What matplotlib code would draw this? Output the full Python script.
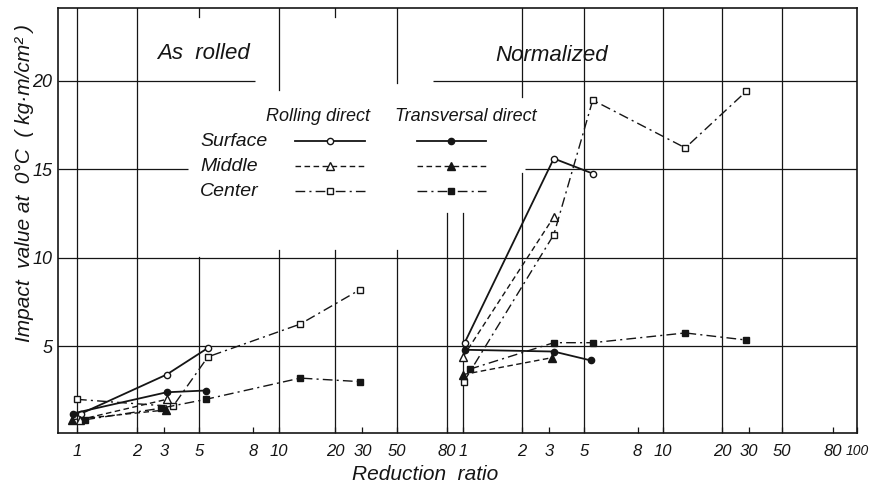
import numpy as np
import matplotlib
matplotlib.use("Agg")
import matplotlib.pyplot as plt
from matplotlib.lines import Line2D

# ---------------- data ----------------
left_ticks = [1, 2, 3, 5, 8, 10, 20, 30, 50, 80]
left_tick_labels = ["1", "2", "3", "5", "8", "10", "20", "30", "50", "80"]
right_ticks = [1, 2, 3, 5, 8, 10, 20, 30, 50, 80, 100]
right_tick_labels = ["1", "2", "3", "5", "8", "10", "20", "30", "50", "80", "100"]
y_ticks = [5, 10, 15, 20]

# As rolled (left panel)
ar_surface_roll_r = [1.05, 3.1, 5.4]
ar_surface_roll_v = [1.2, 3.4, 4.9]
ar_middle_roll_r = [1.03, 3.1]
ar_middle_roll_v = [0.85, 2.0]
ar_center_roll_r = [1.0, 3.4, 5.4, 13, 29]
ar_center_roll_v = [2.0, 1.6, 4.4, 6.25, 8.2]
ar_surface_trans_r = [0.95, 3.1, 5.3]
ar_surface_trans_v = [1.2, 2.4, 2.5]
ar_middle_trans_r = [0.94, 3.05]
ar_middle_trans_v = [0.85, 1.4]
ar_center_trans_r = [1.1, 2.85, 5.3, 13, 29]
ar_center_trans_v = [0.85, 1.5, 2.0, 3.2, 3.0]

# Normalized (right panel)
nz_surface_roll_r = [1.02, 3.2, 5.4]
nz_surface_roll_v = [5.2, 15.6, 14.75]
nz_middle_roll_r = [1.0, 3.2]
nz_middle_roll_v = [4.4, 12.3]
nz_center_roll_r = [1.01, 3.2, 5.4, 13, 29]
nz_center_roll_v = [3.0, 11.3, 18.9, 16.2, 19.4]
nz_surface_trans_r = [1.02, 3.2, 5.3]
nz_surface_trans_v = [4.8, 4.7, 4.2]
nz_middle_trans_r = [1.0, 3.1]
nz_middle_trans_v = [3.4, 4.35]
nz_center_trans_r = [1.08, 3.2, 5.4, 13, 29]
nz_center_trans_v = [3.7, 5.2, 5.2, 5.75, 5.35]

# ---------------- hand-drawn x scale (two log-like panels) ----------------
SCALE_LEFT_R = [1, 2, 5, 10, 20, 50, 80]
SCALE_LEFT_P = [77, 137, 199, 279, 335, 397, 447]
SCALE_RIGHT_R = [1, 2, 5, 10, 20, 50, 100]
SCALE_RIGHT_P = [463, 522, 584, 663, 722, 782, 857]
XMIN, XMAX = 58, 857


def make_pos(anchor_r, anchor_p):
    lr = np.log10(np.asarray(anchor_r, float))
    ap = np.asarray(anchor_p, float)

    def f(r):
        l = np.log10(np.asarray(r, float))
        p = np.interp(l, lr, ap)
        s0 = (ap[1] - ap[0]) / (lr[1] - lr[0])
        s1 = (ap[-1] - ap[-2]) / (lr[-1] - lr[-2])
        p = np.where(l < lr[0], ap[0] + (l - lr[0]) * s0, p)
        p = np.where(l > lr[-1], ap[-1] + (l - lr[-1]) * s1, p)
        return p
    return f


pos_left = make_pos(SCALE_LEFT_R, SCALE_LEFT_P)
pos_right = make_pos(SCALE_RIGHT_R, SCALE_RIGHT_P)

FONT = ["Liberation Sans", "DejaVu Sans"]
plt.rcParams["font.family"] = FONT
plt.rcParams["font.style"] = "italic"
INK = "#151515"

fig = plt.figure(figsize=(8.69, 4.93), dpi=100)
W, H = 869, 493
ax = fig.add_axes([XMIN / W, (H - 433) / H, (XMAX - XMIN) / W, (433 - 8) / H])
ax.set_xlim(XMIN, XMAX)
ax.set_ylim(0.1, 24.1)

# ---------------- grid (partly interrupted like the drawing) ----------------
grid_kw = dict(color=INK, lw=0.9, zorder=1)
full_v = [pos_left(1), pos_left(2), pos_right(5), pos_right(10),
          pos_right(20), pos_right(50)]
for x in full_v:
    ax.axvline(float(x), **grid_kw)
broken_v = [
    (pos_left(5), [(0, 0.414), (0.979, 1)]),
    (pos_left(10), [(0, 0.431), (0.807, 1)]),
    (pos_left(20), [(0, 0.431), (0.979, 1)]),
    (pos_left(50), [(0, 0.431), (0.824, 1)]),
    (pos_left(80), [(0, 0.518)]),
    (pos_right(1), [(0, 0.518)]),
    (pos_right(2), [(0, 0.612), (0.791, 1)]),
]
for x, segs in broken_v:
    for a, b in segs:
        ax.axvline(float(x), ymin=a, ymax=b, **grid_kw)
ax.axhline(5, **grid_kw)
ax.axhline(10, **grid_kw)
ax.hlines([15, 15], [XMIN, 525], [188, XMAX], **grid_kw)
ax.hlines([20, 20], [XMIN, 433], [255, XMAX], **grid_kw)

# ---------------- series ----------------
LS = {"surface": "-", "middle": (0, (4, 2.5)), "center": (0, (7, 3, 1.5, 3))}
MK = {"surface": ("o", 4.5), "middle": ("^", 5.5), "center": ("s", 5)}
LW = {"surface": 1.3, "middle": 1.0, "center": 1.0}

series = [
    (pos_left, ar_surface_roll_r, ar_surface_roll_v, "surface", False),
    (pos_left, ar_middle_roll_r, ar_middle_roll_v, "middle", False),
    (pos_left, ar_center_roll_r, ar_center_roll_v, "center", False),
    (pos_left, ar_surface_trans_r, ar_surface_trans_v, "surface", True),
    (pos_left, ar_middle_trans_r, ar_middle_trans_v, "middle", True),
    (pos_left, ar_center_trans_r, ar_center_trans_v, "center", True),
    (pos_right, nz_surface_roll_r, nz_surface_roll_v, "surface", False),
    (pos_right, nz_middle_roll_r, nz_middle_roll_v, "middle", False),
    (pos_right, nz_center_roll_r, nz_center_roll_v, "center", False),
    (pos_right, nz_surface_trans_r, nz_surface_trans_v, "surface", True),
    (pos_right, nz_middle_trans_r, nz_middle_trans_v, "middle", True),
    (pos_right, nz_center_trans_r, nz_center_trans_v, "center", True),
]
for fpos, r, v, loc, filled in series:
    m, ms = MK[loc]
    ax.plot(fpos(r), v, linestyle=LS[loc], lw=LW[loc], color=INK,
            marker=m, ms=ms, mew=1.0, mec=INK,
            mfc=INK if filled else "white", zorder=3)

# ---------------- legend ----------------
def handle(loc, filled):
    m, ms = MK[loc]
    return Line2D([], [], linestyle=LS[loc], lw=LW[loc], color=INK, marker=m,
                  ms=ms, mew=1.0, mec=INK, mfc=INK if filled else "white")

handles = [handle("surface", False), handle("middle", False), handle("center", False),
           handle("surface", True), handle("middle", True), handle("center", True)]
leg = ax.legend(handles, [""] * 6, ncol=2, frameon=False, fontsize=10,
                handlelength=5.0, handletextpad=0.0, columnspacing=3.74,
                labelspacing=0.8, borderpad=0, borderaxespad=0, numpoints=1,
                loc="upper left", bbox_to_anchor=(0.297, 0.701))

ta = ax.transAxes
txt = dict(color=INK, fontstyle="italic", transform=ta, family=FONT)
ax.text(0.326, 0.744, "Rolling direct", ha="center", va="center", fontsize=13, **txt)
ax.text(0.510, 0.744, "Transversal direct", ha="center", va="center", fontsize=13, **txt)
ax.text(0.178, 0.685, "Surface", ha="left", va="center", fontsize=14, **txt)
ax.text(0.178, 0.628, "Middle", ha="left", va="center", fontsize=14, **txt)
ax.text(0.178, 0.569, "Center", ha="left", va="center", fontsize=14, **txt)
ax.text(0.124, 0.894, "As  rolled", ha="left", va="center", fontsize=16, **txt)
ax.text(0.547, 0.889, "Normalized", ha="left", va="center", fontsize=16, **txt)

# ---------------- axes ----------------
xt = list(pos_left(left_ticks)) + list(pos_right(right_ticks))
xl = left_tick_labels + right_tick_labels
ax.set_xticks(xt)
ax.set_xticklabels(xl, fontsize=12, fontstyle="italic")
ax.get_xticklabels()[-1].set_fontsize(10)
ax.set_yticks(y_ticks)
ax.set_yticklabels([str(t) for t in y_ticks], fontsize=13, fontstyle="italic")
ax.tick_params(axis="x", direction="in", length=4, width=0.9, pad=8, colors=INK)
ax.tick_params(axis="y", direction="in", length=0, pad=4, colors=INK)
for s in ax.spines.values():
    s.set_linewidth(1.2)
    s.set_color(INK)

ax.set_xlabel("Reduction  ratio", fontsize=15, fontstyle="italic", color=INK, labelpad=6)
ax.xaxis.set_label_coords((425 - XMIN) / (XMAX - XMIN), -0.075)
ax.set_ylabel("Impact  value at  0°C  ( kg·m/cm² )", fontsize=15, fontstyle="italic",
              color=INK)
ax.yaxis.set_label_coords(-0.030, 0.588)

fig.savefig("out.png", dpi=100, facecolor="white")
